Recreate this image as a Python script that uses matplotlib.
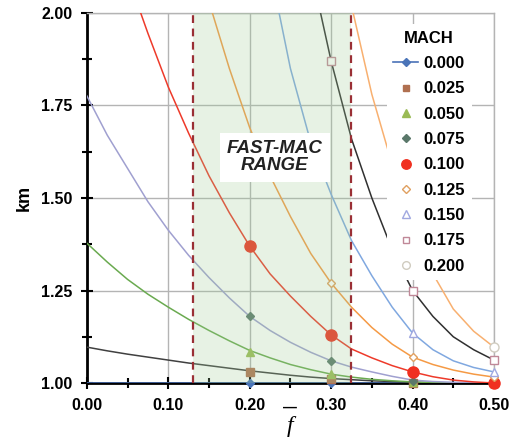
import numpy as np
import matplotlib
matplotlib.use("Agg")
import matplotlib.pyplot as plt
from matplotlib.lines import Line2D

nan = np.nan

# f values for the curves
F = [0.000, 0.025, 0.050, 0.075, 0.100, 0.125, 0.150, 0.175, 0.200, 0.225, 0.250,
     0.275, 0.300, 0.325, 0.350, 0.375, 0.400, 0.425, 0.450, 0.475, 0.500]

# km curves, one per Mach number
km_m000 = [1.0] * 21
km_m025 = [1.097, 1.087, 1.078, 1.070, 1.062, 1.054, 1.047, 1.040, 1.033, 1.027, 1.021,
           1.016, 1.012, 1.009, 1.006, 1.004, 1.002, 1.001, 1.000, 1.000, 1.000]
km_m050 = [1.378, 1.327, 1.280, 1.240, 1.205, 1.172, 1.142, 1.114, 1.088, 1.068, 1.050,
           1.036, 1.024, 1.016, 1.010, 1.006, 1.003, 1.001, 1.000, 1.000, 1.000]
km_m075 = [1.776, 1.670, 1.580, 1.490, 1.413, 1.345, 1.285, 1.230, 1.180, 1.142, 1.110,
           1.083, 1.060, 1.043, 1.030, 1.018, 1.008, 1.004, 1.002, 1.001, 1.000]
km_m100 = [2.45, 2.27, 2.10, 1.945, 1.80, 1.675, 1.56, 1.46, 1.37, 1.295, 1.235,
           1.18, 1.13, 1.092, 1.068, 1.047, 1.03, 1.017, 1.008, 1.003, 1.0]
km_m125 = [nan, nan, nan, 2.50, 2.35, 2.19, 2.03, 1.85, 1.69, 1.56, 1.45,
           1.35, 1.27, 1.205, 1.15, 1.105, 1.07, 1.05, 1.035, 1.024, 1.016]
km_m150 = [nan, nan, nan, nan, nan, nan, nan, nan, 2.45, 2.12, 1.85,
           1.65, 1.51, 1.385, 1.29, 1.205, 1.135, 1.09, 1.06, 1.042, 1.03]
km_m175 = [nan, nan, nan, nan, nan, nan, nan, nan, nan, nan, 2.45,
           2.12, 1.87, 1.66, 1.50, 1.36, 1.25, 1.18, 1.125, 1.09, 1.062]
km_m200 = [nan, nan, nan, nan, nan, nan, nan, nan, nan, nan, nan,
           nan, 2.35, 2.02, 1.78, 1.59, 1.43, 1.295, 1.20, 1.14, 1.097]

# marker points
F_MARK = [0.2, 0.3, 0.4, 0.5]
mk_m000 = [1.0, 1.0, 1.0, 1.0]
mk_m025 = [1.03, 1.01, 1.0, 1.0]
mk_m050 = [1.084, 1.024, 1.003, 1.0]
mk_m075 = [1.18, 1.06, 1.005, 1.0]
mk_m100 = [1.37, 1.13, 1.03, 1.0]
mk_m125 = [nan, 1.27, 1.07, 1.016]
mk_m150 = [nan, nan, 1.135, 1.03]
mk_m175 = [nan, 1.87, 1.25, 1.062]
mk_m200 = [nan, nan, 1.43, 1.097]

mach_labels = ["0.000", "0.025", "0.050", "0.075", "0.100",
               "0.125", "0.150", "0.175", "0.200"]

curves = [km_m000, km_m025, km_m050, km_m075, km_m100,
          km_m125, km_m150, km_m175, km_m200]
marks = [mk_m000, mk_m025, mk_m050, mk_m075, mk_m100,
         mk_m125, mk_m150, mk_m175, mk_m200]

line_colors = ["#4a72b8", "#404040", "#6aaa50", "#a0a0d0", "#ee3a2a",
               "#f59a45", "#80a8e0", "#303030", "#f8b070"]
# (marker, face, edge, size)
marker_styles = [
    ("D", "#4a74b8", "#4a74b8", 4.5),
    ("s", "#b07050", "#b07050", 5.5),
    ("^", "#9abb55", "#9abb55", 6),
    ("D", "#5a786a", "#5a786a", 4.5),
    ("o", "#f03020", "#f03020", 8),
    ("D", "white", "#e0a060", 4.5),
    ("^", "white", "#a0a8e0", 6),
    ("s", "white", "#c08898", 5.5),
    ("o", "white", "#d0ccc0", 6.5),
]

plt.rcParams["font.family"] = ["Liberation Sans", "DejaVu Sans"]

fig = plt.figure(figsize=(5.17, 4.43), dpi=100)
ax = fig.add_axes([0.168, 0.1354, 0.7875, 0.8353])

# ----------- CURVES --------------
for y, c in zip(curves, line_colors):
    ax.plot(F, y, color=c, linewidth=1.1, zorder=3)

for y, (m, fc, ec, ms) in zip(marks, marker_styles):
    ax.plot(F_MARK, y, linestyle="none", marker=m, markerfacecolor=fc,
            markeredgecolor=ec, markersize=ms, markeredgewidth=1.0,
            zorder=3.5, clip_on=False)

# FAST-MAC range shading and limits
ax.axvspan(0.13, 0.325, color="#a0cd96", alpha=0.25, linewidth=0, zorder=4)
for xv in (0.13, 0.325):
    ax.axvline(xv, color="#9a2f35", linestyle=(0, (3.5, 2.5)), linewidth=1.6, zorder=5)

ax.text(0.231, 1.61, "FAST-MAC\nRANGE", ha="center", va="center",
        fontsize=13.5, fontweight="bold", fontstyle="italic", color="#222222",
        linespacing=1.0, zorder=6,
        bbox=dict(boxstyle="square,pad=0.4", facecolor="white", edgecolor="none"))

# ----------- AXES --------------
ax.set_xlim(0, 0.5)
ax.set_ylim(1.0, 2.0)
ax.set_xticks(np.arange(0, 0.51, 0.1))
ax.set_xticks(np.arange(0, 0.51, 0.05), minor=True)
ax.set_yticks(np.arange(1.0, 2.01, 0.25))
ax.set_yticks(np.arange(1.0, 2.01, 0.125), minor=True)
ax.set_xticklabels(["%.2f" % v for v in np.arange(0, 0.51, 0.1)])
ax.set_yticklabels(["%.2f" % v for v in np.arange(1.0, 2.01, 0.25)])
ax.tick_params(which="major", direction="inout", length=9, width=1.5,
               labelsize=11.5, pad=6)
ax.tick_params(which="minor", direction="inout", length=7, width=1.5)
for lab in ax.get_xticklabels() + ax.get_yticklabels():
    lab.set_fontweight("bold")

ax.grid(True, which="major", color="#b4b4b4", linewidth=1.0)
ax.set_axisbelow(True)
for s in ("left", "bottom"):
    ax.spines[s].set_linewidth(2.0)
    ax.spines[s].set_color("black")
for s in ("top", "right"):
    ax.spines[s].set_linewidth(1.0)
    ax.spines[s].set_color("#b4b4b4")

ax.set_ylabel("km", fontsize=13, fontweight="bold", labelpad=6)

# f-bar label
ax.text(0.5, -0.066, "\u2014", transform=ax.transAxes, ha="center", va="center",
        fontsize=10, fontweight="bold")
ax.text(0.5, -0.088, "f", transform=ax.transAxes, ha="center", va="top",
        fontsize=17, fontstyle="italic", family="Liberation Serif")

# ----------- LEGEND --------------
handles = []
for i, (m, fc, ec, ms) in enumerate(marker_styles):
    ls = "-" if i == 0 else "none"
    handles.append(Line2D([], [], color=line_colors[0], linestyle=ls, linewidth=1.2,
                          marker=m, markerfacecolor=fc, markeredgecolor=ec,
                          markersize=ms * 0.85))
leg = ax.legend(handles, mach_labels, title="MACH", loc="upper right",
                bbox_to_anchor=(0.945, 0.97), borderaxespad=0,
                prop={"weight": "bold", "size": 12}, labelspacing=0.62,
                handlelength=1.5, handletextpad=0.3, borderpad=0.4,
                fancybox=False, framealpha=1, edgecolor="none")
leg.get_title().set_fontweight("bold")
leg.get_title().set_fontsize(12)
leg.set_zorder(7)

plt.savefig("out.png", dpi=100)
